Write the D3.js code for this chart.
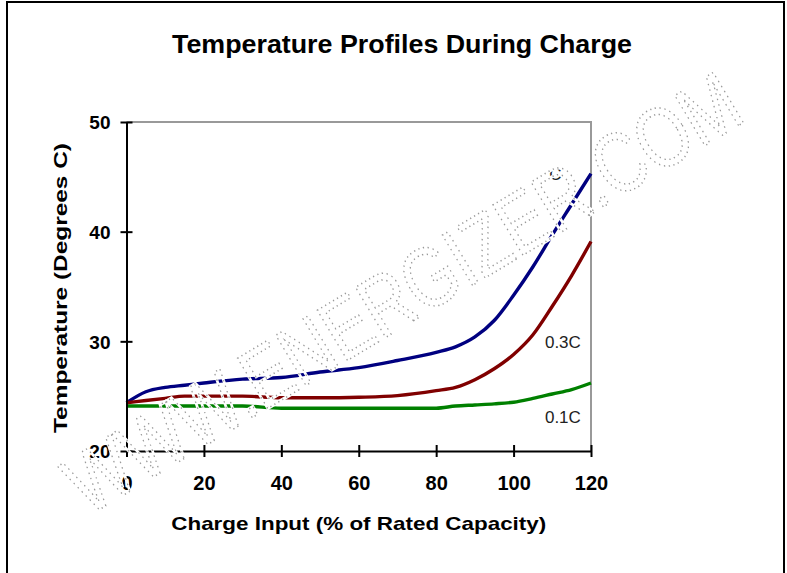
<!DOCTYPE html>
<html>
<head>
<meta charset="utf-8">
<script src="https://cdn.jsdelivr.net/npm/d3@7"></script>
<style>
  html, body { margin: 0; padding: 0; background: #fff; }
  svg { display: block; }
  text { font-family: "Liberation Sans", Arial, sans-serif; }
</style>
</head>
<body>
<svg id="chart" width="787" height="573"></svg>
<script>
// --- data ---
const chargeInput = [0, 5, 10, 15, 20, 30, 40, 50, 60, 70, 80, 85, 90, 95, 100, 105, 110, 115, 120];
const tempRate1C  = [24.4, 25.4, 25.8, 26.0, 26.2, 26.55, 26.7, 27.2, 27.6, 28.25, 29.0, 29.5, 30.4, 31.9, 34.2, 36.8, 39.7, 42.5, 45.3];
const tempRate03C = [24.4, 24.6, 24.8, 25.0, 25.0, 25.0, 24.85, 24.85, 24.9, 25.05, 25.5, 25.8, 26.5, 27.5, 28.8, 30.6, 33.2, 36.0, 39.1];
const tempRate01C = [24.1, 24.1, 24.1, 24.1, 24.1, 24.1, 23.9, 23.9, 23.9, 23.9, 23.9, 24.1, 24.2, 24.3, 24.45, 24.8, 25.2, 25.6, 26.2];
const seriesLabels = ["C", "0.3C", "0.1C"];
const seriesColors = ["#000080", "#800000", "#008000"];
// where each series label sits, in data units
const labelX = [109.2, 108.1, 108.1];
const labelY = [44.7, 29.4, 22.55];
const xTicks = [0, 20, 40, 60, 80, 100, 120];
const yTicks = [20, 30, 40, 50];

const svg = d3.select("#chart");

// outer frame
svg.append("rect")
  .attr("x", 7).attr("y", 2)
  .attr("width", 777).attr("height", 590)
  .attr("fill", "none")
  .attr("stroke", "#000")
  .attr("stroke-width", 2);

const plot = { left: 126.5, right: 591, top: 122, bottom: 451 };

const x = d3.scaleLinear().domain([0, 120]).range([plot.left, plot.right]);
const y = d3.scaleLinear().domain([20, 50]).range([plot.bottom, plot.top]);

// grey frame on top and right of the plot area
svg.append("path")
  .attr("d", `M${plot.left},${plot.top}H${plot.right}V${plot.bottom}`)
  .attr("fill", "none")
  .attr("stroke", "#999")
  .attr("stroke-width", 2);

// title
svg.append("text")
  .attr("x", 402).attr("y", 53)
  .attr("text-anchor", "middle")
  .attr("font-size", 26)
  .attr("font-weight", "bold")
  .attr("textLength", 460)
  .attr("lengthAdjust", "spacingAndGlyphs")
  .text("Temperature Profiles During Charge");

// series lines
const series = [tempRate1C, tempRate03C, tempRate01C];
const line = d3.line()
  .x(d => x(d[0]))
  .y(d => y(d[1]))
  .curve(d3.curveMonotoneX);

series.forEach((vals, i) => {
  const pts = chargeInput.map((c, j) => [c, vals[j]]);
  svg.append("path")
    .datum(pts)
    .attr("d", line)
    .attr("fill", "none")
    .attr("stroke", seriesColors[i])
    .attr("stroke-width", 3.4);
});

// series labels
svg.selectAll("text.series-label")
  .data(seriesLabels)
  .enter().append("text")
  .attr("class", "series-label")
  .attr("x", (d, i) => x(labelX[i]))
  .attr("y", (d, i) => y(labelY[i]))
  .attr("font-size", 17)
  .attr("fill", "#222")
  .text(d => d);

// axes: ticks cross the axis line
const xAxis = d3.axisBottom(x).tickValues(xTicks).tickSize(0).tickPadding(0);
const gx = svg.append("g")
  .attr("transform", `translate(0,${plot.bottom})`)
  .call(xAxis);
gx.select(".domain").attr("stroke", "#000").attr("stroke-width", 2);
gx.selectAll(".tick line")
  .attr("y1", -6).attr("y2", 6)
  .attr("stroke", "#000").attr("stroke-width", 2);
gx.selectAll(".tick text")
  .attr("y", 39)
  .attr("dy", null)
  .attr("font-family", "\"Liberation Sans\", Arial, sans-serif")
  .attr("font-size", 20)
  .attr("font-weight", "bold")
  .attr("fill", "#000");

const yAxis = d3.axisLeft(y).tickValues(yTicks).tickSize(0).tickPadding(0);
const gy = svg.append("g")
  .attr("transform", `translate(${plot.left},0)`)
  .call(yAxis);
gy.select(".domain").attr("stroke", "#000").attr("stroke-width", 2);
gy.selectAll(".tick line")
  .attr("x1", -6).attr("x2", 6)
  .attr("stroke", "#000").attr("stroke-width", 2);
gy.selectAll(".tick text")
  .attr("x", -16)
  .attr("dy", "0.36em")
  .attr("font-family", "\"Liberation Sans\", Arial, sans-serif")
  .attr("font-size", 19)
  .attr("font-weight", "bold")
  .attr("fill", "#000");

// axis titles
svg.append("text")
  .attr("x", (plot.left + plot.right) / 2).attr("y", 530)
  .attr("text-anchor", "middle")
  .attr("font-size", 19)
  .attr("font-weight", "bold")
  .attr("textLength", 375)
  .attr("lengthAdjust", "spacingAndGlyphs")
  .text("Charge Input (% of Rated Capacity)");

svg.append("text")
  .attr("transform", "translate(67,288) rotate(-90)")
  .attr("text-anchor", "middle")
  .attr("font-size", 19)
  .attr("font-weight", "bold")
  .attr("textLength", 290)
  .attr("lengthAdjust", "spacingAndGlyphs")
  .text("Temperature (Degrees C)");

// dotted watermark, stretched upward so its letters look tall and narrow,
// with a thin white halo that cuts the marks under it
const wm = svg.append("g")
  .attr("transform", "translate(402,292) rotate(-31) scale(1,1.27)");
["#fff", "#9a9a9a"].forEach((col, k) => {
  wm.append("text")
    .attr("text-anchor", "middle")
    .attr("dy", "0.36em")
    .attr("font-size", 67)
    .attr("fill", "none")
    .attr("stroke", col)
    .attr("stroke-width", k === 0 ? 2.6 : 1.2)
    .attr("stroke-dasharray", k === 0 ? null : "1.2,3.4")
    .text("WWW.ENERGIZER.COM");
});
</script>
</body>
</html>
